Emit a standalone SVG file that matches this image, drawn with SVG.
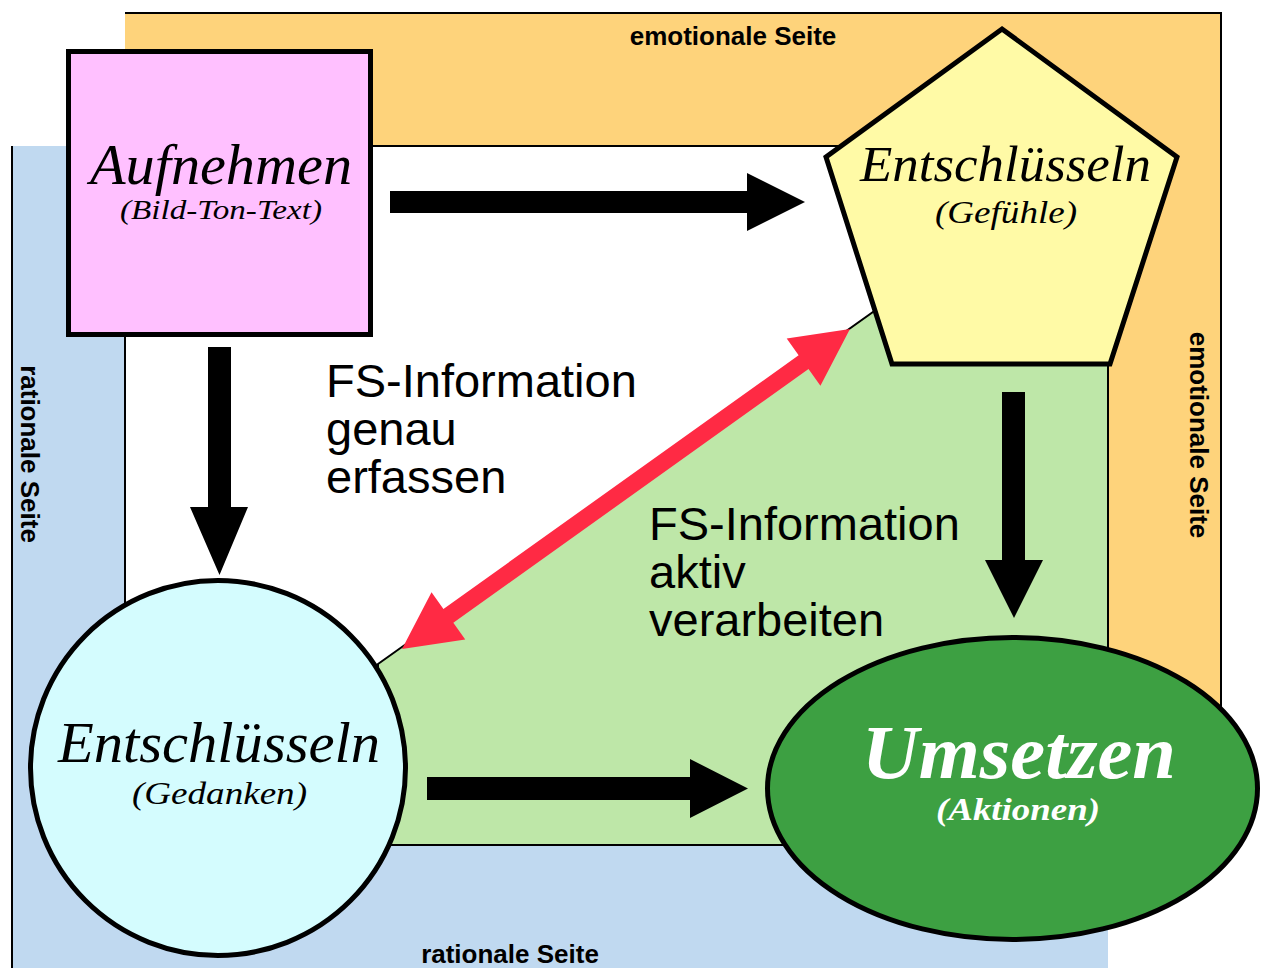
<svg xmlns="http://www.w3.org/2000/svg" width="1264" height="968" viewBox="0 0 1264 968">
<defs>
<style>
.side{font-family:"Liberation Sans",Arial,sans-serif;font-weight:bold;font-size:26px;fill:#000}
.title{font-family:"Liberation Serif","Times New Roman",serif;font-style:italic;fill:#000;text-anchor:middle}
.fs{font-family:"Liberation Sans",Arial,sans-serif;font-size:47px;fill:#000}
.node{stroke:#000;stroke-width:5}
.line{stroke:#000;stroke-width:2;fill:none}
.area{stroke:#000;stroke-width:2}
.blk{fill:#000}
</style>
</defs>
<rect width="1264" height="968" fill="#fff"/>
<g id="background">
<rect x="125" y="13" width="1096" height="770" fill="#FED37B"/>
<polyline points="125,13 1221,13 1221,783" class="line"/>
<rect x="12" y="146" width="1096" height="830" fill="#C0D9F0"/>
<line x1="12" y1="146" x2="12" y2="968" class="line"/>
<rect x="125" y="146" width="983" height="699" fill="#fff" class="area"/>
<polygon points="378,664 873,312 1108,312 1108,845 378,845" fill="#BEE7A8" class="area"/>
<text class="side" x="733" y="45" text-anchor="middle">emotionale Seite</text>
<text class="side" x="510" y="963" text-anchor="middle">rationale Seite</text>
<text class="side" text-anchor="middle" transform="translate(21,454) rotate(90)">rationale Seite</text>
<text class="side" text-anchor="middle" transform="translate(1190,435) rotate(90)">emotionale Seite</text>
</g>
<g id="connectors">
<polygon class="blk" points="390,191 747,191 747,173 805,202 747,231 747,213 390,213"/>
<polygon class="blk" points="208,347 231,347 231,507 248,507 219.5,575 190,507 208,507"/>
<polygon class="blk" points="1002,392 1025,392 1025,560 1043,560 1014,618 985,560 1002,560"/>
<polygon class="blk" points="427,777 690,777 690,759 748,788.5 690,818 690,800 427,800"/>
<polygon fill="#FF2A44" transform="translate(402,649) rotate(-35.54)" points="0,0 57,-29 57,-8.5 493.5,-8.5 493.5,-29 550.5,0 493.5,29 493.5,8.5 57,8.5 57,29"/>
</g>
<g id="fs-labels">
<text class="fs" x="326" y="397">FS-Information</text>
<text class="fs" x="326" y="445">genau</text>
<text class="fs" x="326" y="493">erfassen</text>
<text class="fs" x="649" y="540">FS-Information</text>
<text class="fs" x="649" y="588">aktiv</text>
<text class="fs" x="649" y="636">verarbeiten</text>
</g>
<g id="aufnehmen">
<rect x="68.5" y="51.5" width="302" height="283" fill="#FFC0FF" class="node"/>
<text class="title" x="221" y="184" font-size="56" textLength="262" lengthAdjust="spacingAndGlyphs">Aufnehmen</text>
<text class="title" x="221" y="219" font-size="28" textLength="202" lengthAdjust="spacingAndGlyphs">(Bild-Ton-Text)</text>
</g>
<g id="gefuehle">
<polygon points="1002,29 1177,157 1110,364 892,364 826,157" fill="#FFFAA6" class="node"/>
<text class="title" x="1005.5" y="181" font-size="50" textLength="291" lengthAdjust="spacingAndGlyphs">Entschlüsseln</text>
<text class="title" x="1006" y="223" font-size="31" textLength="142" lengthAdjust="spacingAndGlyphs">(Gefühle)</text>
</g>
<g id="gedanken">
<circle cx="218" cy="768" r="187.5" fill="#D4FCFE" class="node"/>
<text class="title" x="219" y="762" font-size="56" textLength="322" lengthAdjust="spacingAndGlyphs">Entschlüsseln</text>
<text class="title" x="219.5" y="804" font-size="32" textLength="175" lengthAdjust="spacingAndGlyphs">(Gedanken)</text>
</g>
<g id="umsetzen">
<ellipse cx="1012.5" cy="788.5" rx="245" ry="151" fill="#3DA042" class="node"/>
<text class="title" x="1019" y="778" font-size="76" font-weight="bold" style="fill:#fff" textLength="314" lengthAdjust="spacingAndGlyphs">Umsetzen</text>
<text class="title" x="1018" y="820" font-size="32" font-weight="bold" style="fill:#fff" textLength="164" lengthAdjust="spacingAndGlyphs">(Aktionen)</text>
</g>
</svg>
